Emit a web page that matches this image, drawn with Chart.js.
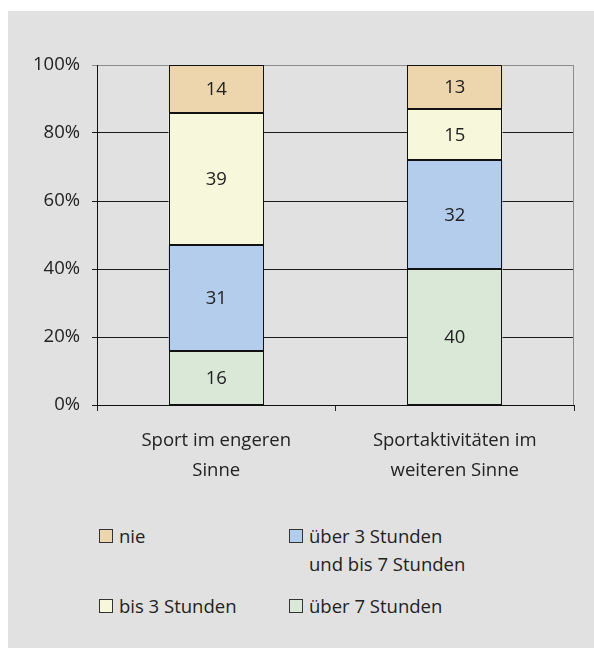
<!DOCTYPE html>
<html><head><meta charset="utf-8">
<script src="https://cdn.jsdelivr.net/npm/chart.js@4"></script>
<style>
html,body{margin:0;padding:0;background:#fff;width:594px;height:648px;overflow:hidden;}
#panel{position:absolute;left:8px;top:11px;width:586px;height:637px;background:#e1e1e1;}
#wrap{position:absolute;left:0;top:0;width:586px;height:500px;}
.lg{position:absolute;font-family:"Open Sans",sans-serif;font-size:18.5px;color:#222;line-height:28px;white-space:nowrap;}
.sw{position:absolute;width:14px;height:14px;border:1px solid #333;box-sizing:border-box;}
</style></head>
<body>
<div id="panel">
<div id="wrap"><canvas id="c" width="586" height="500"></canvas></div>
<div id="legend"></div>
</div>
<script>
const categories = [["Sport im engeren","Sinne"],["Sportaktivitäten im","weiteren Sinne"]];
const seriesNames = ["über 7 Stunden","über 3 Stunden und bis 7 Stunden","bis 3 Stunden","nie"];
const ueber7 = [16, 40];
const ueber3bis7 = [31, 32];
const bis3 = [39, 15];
const nie = [14, 13];
const yTicks = [0, 20, 40, 60, 80, 100];
const colors = ["#d9e8d7","#b4cdec","#f7f7dc","#edd5ae"];

const FONT = '"Open Sans", sans-serif';
const FS = 18.5;
const series = [ueber7, ueber3bis7, bis3, nie];

const labelPlugin = {
  id: 'vals',
  afterDatasetsDraw(chart) {
    const ctx = chart.ctx;
    ctx.save();
    // crisp outlines of every bar segment
    ctx.strokeStyle = '#111';
    ctx.lineWidth = 1;
    chart.data.datasets.forEach((ds, i) => {
      chart.getDatasetMeta(i).data.forEach((el) => {
        const p = el.getProps(['x','y','base','width'], true);
        const l = Math.round(p.x - p.width / 2) + 0.5;
        const r = Math.round(p.x + p.width / 2) - 0.5;
        const t = Math.round(p.y) + 0.5;
        const b = Math.round(p.base) - 0.5;
        ctx.strokeRect(l, t, r - l, b - t);
      });
    });
    ctx.font = FS + 'px ' + FONT;
    ctx.fillStyle = '#222';
    ctx.textAlign = 'center';
    ctx.textBaseline = 'middle';
    chart.data.datasets.forEach((ds, i) => {
      chart.getDatasetMeta(i).data.forEach((el, j) => {
        const p = el.getProps(['x','y','base'], true);
        ctx.fillText(String(ds.data[j]), p.x, (p.y + p.base) / 2 + 1);
      });
    });
    // right border of plot area
    const a = chart.chartArea;
    ctx.strokeStyle = '#8c8c8c';
    ctx.beginPath();
    ctx.moveTo(Math.round(a.right) - 0.5, a.top);
    ctx.lineTo(Math.round(a.right) - 0.5, a.bottom);
    ctx.stroke();
    ctx.restore();
  }
};

new Chart(document.getElementById('c'), {
  type: 'bar',
  data: {
    labels: categories,
    datasets: series.map((d, i) => ({
      label: seriesNames[i],
      data: d,
      backgroundColor: colors[i],
      borderWidth: 0,
      barPercentage: 0.4,
      categoryPercentage: 1.0
    }))
  },
  options: {
    responsive: false,
    animation: false,
    events: [],
    layout: { padding: { top: 54, right: 20, left: 0, bottom: 0 } },
    plugins: { legend: { display: false }, tooltip: { enabled: false } },
    scales: {
      x: {
        stacked: true,
        offset: true,
        afterFit(s) { s.height = 106; },
        grid: { offset: true, drawOnChartArea: false, drawTicks: true, tickLength: 6, color: '#222' },
        border: { display: true, color: '#111', width: 1 },
        ticks: { padding: 14.5, color: '#222', font: { family: FONT, size: FS, lineHeight: '30px' }, maxRotation: 0 }
      },
      y: {
        stacked: true,
        min: 0, max: 100,
        afterFit(s) { s.width = 89; },
        afterBuildTicks(s) { s.ticks = yTicks.map(v => ({ value: v })); },
        grid: {
          color: c => (c.tick && c.tick.value === 100) ? '#8c8c8c' : '#1a1a1a',
          tickLength: 5, drawTicks: true
        },
        border: { display: true, color: '#111', width: 1 },
        ticks: { padding: 12, color: '#222', font: { family: FONT, size: FS }, callback: v => v + '%' }
      }
    }
  },
  plugins: [labelPlugin]
});

// HTML legend (2x2 grid), built from series names/colours
const legendItems = [
  { color: colors[3], x: 91, y: 518, lines: ['nie'] },
  { color: colors[1], x: 281, y: 518, lines: ['über 3 Stunden', 'und bis 7 Stunden'] },
  { color: colors[2], x: 91, y: 588, lines: ['bis 3 Stunden'] },
  { color: colors[0], x: 281, y: 588, lines: ['über 7 Stunden'] }
];
const lg = document.getElementById('legend');
legendItems.forEach(it => {
  const sw = document.createElement('div');
  sw.className = 'sw';
  sw.style.left = it.x + 'px';
  sw.style.top = it.y + 'px';
  sw.style.background = it.color;
  lg.appendChild(sw);
  const t = document.createElement('div');
  t.className = 'lg';
  t.style.left = (it.x + 20) + 'px';
  t.style.top = (it.y - 7) + 'px';
  t.innerHTML = it.lines.join('<br>');
  lg.appendChild(t);
});
</script>
</body></html>
